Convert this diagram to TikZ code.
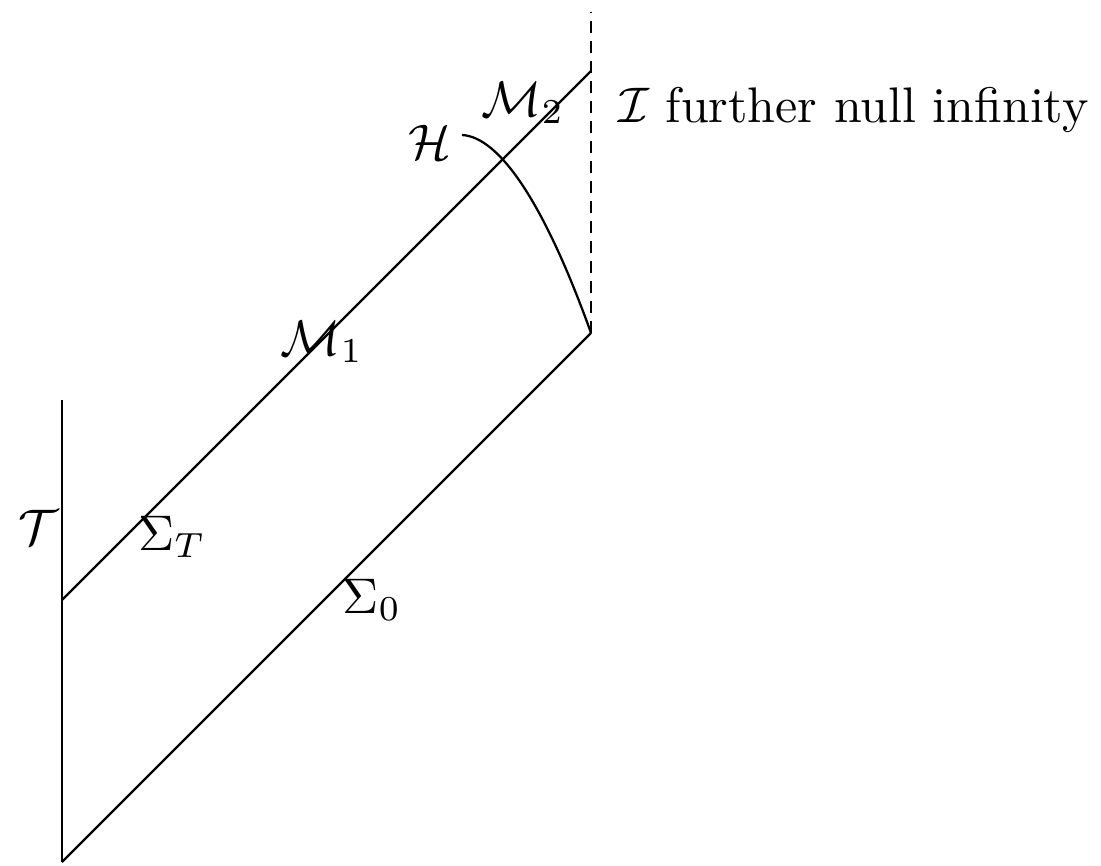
\documentclass[tikz,border=0pt]{standalone}
\usepackage{amsmath,amssymb}
\usetikzlibrary{calc}

\begin{document}
\begin{tikzpicture}[
  x=0.2pt, y=0.2pt,
  line width=0.45pt,
  lbl/.style={inner sep=1pt},
  scri/.style={dash pattern=on 2.4pt off 1.6pt},
]
\useasboundingbox (0,0) rectangle (1101,865);

% ===== corners of the region =====
\coordinate (tb) at (62,3);     % bottom of timelike boundary
\coordinate (tt) at (62,465);   % top of timelike boundary
\coordinate (sT) at (62,265);   % start of Sigma_T
\coordinate (iT) at (591,794);  % Sigma_T meets scri
\coordinate (i0) at (591,532);  % Sigma_0 meets scri
\coordinate (st) at (591,853);  % top of scri
\coordinate (hs) at (462,730);  % start of horizon curve

% ===== boundaries =====
\draw (tb) -- (tt);
\draw (tb) -- (i0);
\draw (sT) -- (iT);
\draw[scri] (i0) -- (st);

% horizon
\draw (hs) .. controls (500,728) and (545,660) .. (i0);

% ===== labels =====
\node (lT)  [lbl] at (38,338)  {$\mathcal{T}$};
\node (lST) [lbl] at (172,328) {$\Sigma_T$};
\node (lS0) [lbl] at (372,265) {$\Sigma_0$};
\node (lM1) [lbl] at (322,523) {$\mathcal{M}_1$};
\node (lM2) [lbl] at (523,762) {$\mathcal{M}_2$};
\node (lH)  [lbl] at (430,723) {$\mathcal{H}$};
\node (lI)  [lbl, anchor=base west] at (612,742) {$\mathcal{I}$ further null infinity};
\end{tikzpicture}
\end{document}
